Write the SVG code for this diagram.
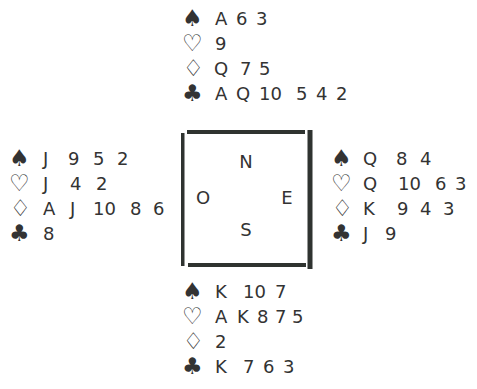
<svg xmlns="http://www.w3.org/2000/svg" width="477" height="389" viewBox="0 0 477 389">
<style>
text{font-family:"DejaVu Sans","Liberation Sans",sans-serif;fill:#333333;}
.c{font-size:18px;}
.s{font-size:23px;}
.dir{font-size:18px;text-anchor:middle;}
.bar{fill:#2f3330;}
</style>
<rect width="477" height="389" fill="#ffffff"/>
<g id="north">
<text class="s" x="182" y="26">♠</text><text class="c" y="25"><tspan x="215">A</tspan><tspan x="236">6</tspan><tspan x="256">3</tspan></text>
<text class="s" x="182" y="51">♡</text><text class="c" y="50"><tspan x="215">9</tspan></text>
<text class="s" x="183" y="76">♢</text><text class="c" y="75"><tspan x="214">Q</tspan><tspan x="240">7</tspan><tspan x="259">5</tspan></text>
<text class="s" x="182" y="101">♣</text><text class="c" y="100"><tspan x="215">A</tspan><tspan x="236">Q</tspan><tspan x="259">10</tspan><tspan x="296">5</tspan><tspan x="316">4</tspan><tspan x="336">2</tspan></text>
</g>
<g id="west">
<text class="s" x="9" y="166">♠</text><text class="c" y="165"><tspan x="43">J</tspan><tspan x="68">9</tspan><tspan x="93">5</tspan><tspan x="117">2</tspan></text>
<text class="s" x="9" y="191">♡</text><text class="c" y="190"><tspan x="43">J</tspan><tspan x="70">4</tspan><tspan x="96">2</tspan></text>
<text class="s" x="10" y="216">♢</text><text class="c" y="215"><tspan x="43">A</tspan><tspan x="70">J</tspan><tspan x="93">10</tspan><tspan x="130">8</tspan><tspan x="153">6</tspan></text>
<text class="s" x="9" y="241">♣</text><text class="c" y="240"><tspan x="43">8</tspan></text>
</g>
<g id="east">
<text class="s" x="331" y="166">♠</text><text class="c" y="165"><tspan x="363">Q</tspan><tspan x="396">8</tspan><tspan x="420">4</tspan></text>
<text class="s" x="331" y="191">♡</text><text class="c" y="190"><tspan x="363">Q</tspan><tspan x="398">10</tspan><tspan x="435">6</tspan><tspan x="455">3</tspan></text>
<text class="s" x="332" y="216">♢</text><text class="c" y="215"><tspan x="363">K</tspan><tspan x="397">9</tspan><tspan x="420">4</tspan><tspan x="443">3</tspan></text>
<text class="s" x="331" y="241">♣</text><text class="c" y="240"><tspan x="363">J</tspan><tspan x="385">9</tspan></text>
</g>
<g id="south">
<text class="s" x="182" y="299">♠</text><text class="c" y="298"><tspan x="215">K</tspan><tspan x="243">10</tspan><tspan x="275">7</tspan></text>
<text class="s" x="182" y="324">♡</text><text class="c" y="323"><tspan x="215">A</tspan><tspan x="237">K</tspan><tspan x="257">8</tspan><tspan x="275">7</tspan><tspan x="292">5</tspan></text>
<text class="s" x="183" y="349">♢</text><text class="c" y="348"><tspan x="215">2</tspan></text>
<text class="s" x="182" y="374">♣</text><text class="c" y="373"><tspan x="215">K</tspan><tspan x="243">7</tspan><tspan x="263">6</tspan><tspan x="283">3</tspan></text>
</g>
<g id="table">
<rect class="bar" x="181" y="133" width="3.5" height="133"/>
<rect class="bar" x="187" y="130" width="118" height="4"/>
<rect class="bar" x="307.5" y="130" width="5" height="139"/>
<rect class="bar" x="188" y="263" width="118" height="4"/>
<text class="dir" x="246" y="168">N</text>
<text class="dir" x="203" y="204">O</text>
<text class="dir" x="287" y="204">E</text>
<text class="dir" x="246" y="236">S</text>
</g>
</svg>
